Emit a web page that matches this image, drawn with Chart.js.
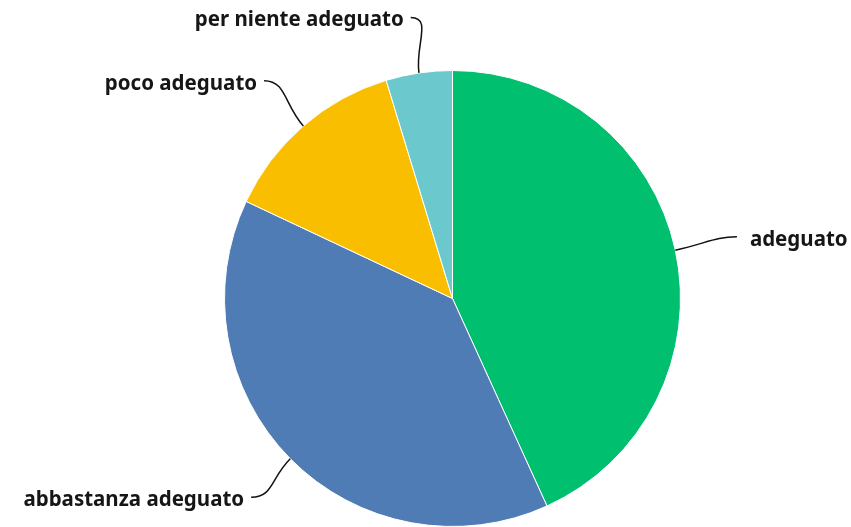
<!DOCTYPE html>
<html>
<head>
<meta charset="utf-8">
<script src="https://cdn.jsdelivr.net/npm/chart.js@4"></script>
<style>
  html, body { margin: 0; padding: 0; background: #fff; }
  #chart { display: block; }
</style>
</head>
<body>
<canvas id="chart" width="851" height="527"></canvas>
<script>
const categories = ['adeguato', 'abbastanza adeguato', 'poco adeguato', 'per niente adeguato'];
const values = [43.2, 38.8, 13.3, 4.7];
const colors = ['#00BF6F', '#507CB6', '#F9BE00', '#6BC8CD'];
// lunghezza della linea guida oltre il bordo della torta
const leaderLength = [63, 55, 60, 56];

// etichette esterne con linea curva
const leaderLabels = {
  id: 'leaderLabels',
  afterDatasetsDraw(chart) {
    const ctx = chart.ctx;
    const arcs = chart.getDatasetMeta(0).data;
    ctx.save();
    ctx.font = 'bold 20.5px "Noto Sans"';
    ctx.fillStyle = '#161616';
    ctx.strokeStyle = '#111';
    ctx.lineWidth = 1.5;
    ctx.textBaseline = 'middle';
    arcs.forEach((arc, i) => {
      const mid = (arc.startAngle + arc.endAngle) / 2;
      const r = arc.outerRadius;
      const len = leaderLength[i];
      const sx = arc.x + Math.cos(mid) * r;
      const sy = arc.y + Math.sin(mid) * r;
      const ex = arc.x + Math.cos(mid) * (r + len);
      const ey = arc.y + Math.sin(mid) * (r + len);
      const right = Math.cos(mid) >= 0;
      const c1x = arc.x + Math.cos(mid) * (r + len / 2);
      const c1y = arc.y + Math.sin(mid) * (r + len / 2);
      const c2x = ex + (right ? -22 : 22);
      ctx.beginPath();
      ctx.moveTo(sx, sy);
      ctx.bezierCurveTo(c1x, c1y, c2x, ey, ex, ey);
      ctx.stroke();
      ctx.textAlign = right ? 'left' : 'right';
      ctx.fillText(categories[i], ex + (right ? 13 : -7), ey + 3);
    });
    ctx.restore();
  }
};

new Chart(document.getElementById('chart'), {
  type: 'pie',
  data: {
    labels: categories,
    datasets: [{
      data: values,
      backgroundColor: colors,
      borderColor: '#ffffff',
      borderWidth: 1
    }]
  },
  options: {
    responsive: false,
    animation: false,
    layout: { padding: { top: 70, bottom: -2, left: 54, right: 0 } },
    plugins: {
      legend: { display: false },
      tooltip: { enabled: false }
    }
  },
  plugins: [leaderLabels]
});
</script>
</body>
</html>
